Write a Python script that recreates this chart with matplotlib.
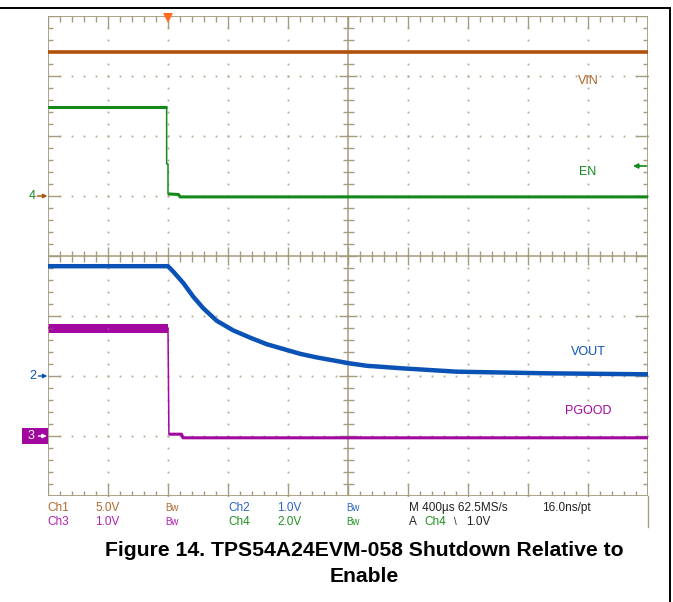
#!/usr/bin/python3

import matplotlib;matplotlib.use('Agg')
import matplotlib.pyplot as plt
from matplotlib.collections import LineCollection
from matplotlib.patches import Rectangle
from matplotlib.lines import Line2D

PNG_FILENAME = 'out.png'
W, H = 673, 602
DPI = 100

# scope screen: 10 x 8 divisions, time in ms relative to the EN falling edge
T_LEFT = -0.8
T_DIV = 0.4          # 400 us/div
N_XDIV, N_YDIV = 10, 8

# channel settings (volts/div, ground position in divisions)
CH1_SCALE, CH1_POS = 5.0, 1.0    # VIN
CH2_SCALE, CH2_POS = 1.0, -2.0   # VOUT
CH3_SCALE, CH3_POS = 1.0, -3.0   # PGOOD
CH4_SCALE, CH4_POS = 2.0, 1.0    # EN
TRIG_LEVEL = 1.0                 # A Ch4 falling 1.0V

# traces (t in ms, values in volts)
vin_t = [-0.8, 3.2]
vin_v = [12.0, 12.0]

en_t = [-0.8, -0.009, -0.009, 0.0, 0.0, 0.07, 0.08, 3.2]
en_v = [2.97, 2.97, 1.07, 1.07, 0.07, 0.05, -0.03, -0.03]

vout_t = [-0.8, 0.0, 0.035, 0.102, 0.169, 0.235, 0.325, 0.435, 0.547, 0.658,
          0.769, 0.880, 0.991, 1.102, 1.213, 1.325, 1.413, 1.547, 1.924,
          2.524, 3.2]
vout_v = [1.83, 1.83, 1.74, 1.55, 1.32, 1.13, 0.92, 0.76, 0.64, 0.53,
          0.45, 0.37, 0.31, 0.26, 0.21, 0.17, 0.155, 0.13, 0.072,
          0.045, 0.028]

pgood_t = [-0.8, 0.0, 0.006, 0.09, 0.10, 3.2]
pgood_v = [1.80, 1.80, 0.03, 0.03, -0.03, -0.03]
pgood_band_t = [-0.8, 0.0]
pgood_band_hi = [1.87, 1.87]
pgood_band_lo = [1.72, 1.72]

C_VIN = '#b0500a'
C_EN = '#13891a'
C_VOUT = '#0a52b5'
C_PGOOD = '#a2079f'
C_GRID = '#a59b7f'
C_DOT = '#b0a88e'
C_TEXT = '#222222'


def to_div(v, scale, pos):
    return [pos + x / scale for x in v]


def draw_graticule(ax):
    t_right = T_LEFT + N_XDIV * T_DIV
    ytop = N_YDIV / 2
    px_x = (t_right - T_LEFT) / 600.0
    px_y = N_YDIV / 480.0
    xc = T_LEFT + N_XDIV / 2 * T_DIV
    xminor = [T_LEFT + k * T_DIV / 5 for k in range(N_XDIV * 5 + 1)]
    yminor = [-ytop + k * 0.2 for k in range(N_YDIV * 5 + 1)]

    # dotted division lines
    for k in range(1, N_XDIV):
        if k == N_XDIV // 2:
            continue
        x = T_LEFT + k * T_DIV
        ax.plot([x] * len(yminor), yminor, ls='none', marker='s', ms=1.3,
                mew=0, color=C_DOT)
    for k in range(1, N_YDIV):
        if k == N_YDIV // 2:
            continue
        y = -ytop + k
        ax.plot(xminor, [y] * len(xminor), ls='none', marker='s', ms=1.3,
                mew=0, color=C_DOT)

    # frame and centre cross
    ax.plot([T_LEFT, t_right, t_right, T_LEFT, T_LEFT],
            [-ytop, -ytop, ytop, ytop, -ytop], color=C_GRID, lw=1.3)
    ax.plot([xc, xc], [-ytop, ytop], color=C_GRID, lw=1.1)
    ax.plot([T_LEFT, t_right], [0, 0], color=C_GRID, lw=1.1)

    segs = []
    for i, x in enumerate(xminor):
        major = i % 5 == 0
        ln = (12 if major else 5.5) * px_y
        cr = (9 if major else 5.5) * px_y
        segs.append([(x, ytop), (x, ytop - ln)])
        segs.append([(x, -ytop), (x, -ytop + ln)])
        segs.append([(x, -cr), (x, cr)])
    for i, y in enumerate(yminor):
        major = i % 5 == 0
        ln = (12 if major else 5.5) * px_x
        cr = (9 if major else 5.5) * px_x
        segs.append([(T_LEFT, y), (T_LEFT + ln, y)])
        segs.append([(t_right, y), (t_right - ln, y)])
        segs.append([(xc - cr, y), (xc + cr, y)])
    ax.add_collection(LineCollection(segs, colors=C_GRID, linewidths=1.0))

    # trigger position marker
    ax.plot([0], [ytop - 2 * px_y], marker='v', ms=7, mew=0,
            color='#ff6a1e', clip_on=False, zorder=6)


def draw_traces(ax):
    vin_y = to_div(vin_v, CH1_SCALE, CH1_POS)
    en_y = to_div(en_v, CH4_SCALE, CH4_POS)
    vout_y = to_div(vout_v, CH2_SCALE, CH2_POS)
    pg_y = to_div(pgood_v, CH3_SCALE, CH3_POS)

    ax.plot(vin_t, vin_y, color=C_VIN, lw=2.6, solid_capstyle='butt')

    ax.plot(en_t, en_y, color=C_EN, lw=1.1)
    ax.plot(en_t[:2], en_y[:2], color=C_EN, lw=2.2, solid_capstyle='butt')
    ax.plot(en_t[4:], en_y[4:], color=C_EN, lw=2.2, solid_capstyle='butt')

    ax.plot(vout_t, vout_y, color=C_VOUT, lw=3.2, solid_capstyle='butt',
            solid_joinstyle='round')

    ax.fill_between(pgood_band_t,
                    to_div(pgood_band_lo, CH3_SCALE, CH3_POS),
                    to_div(pgood_band_hi, CH3_SCALE, CH3_POS),
                    color=C_PGOOD, lw=0)
    ax.plot(pgood_t, pg_y, color=C_PGOOD, lw=1.1)
    ax.plot(pgood_t[2:], pg_y[2:], color=C_PGOOD, lw=2.2, solid_capstyle='butt')

    # trace names
    ax.text(2.8, 2.92, 'VIN', color='#b06528', fontsize=9, ha='center', va='center')
    ax.text(2.8, 1.40, 'EN', color=C_EN, fontsize=9, ha='center', va='center')
    ax.text(2.8, -1.60, 'VOUT', color=C_VOUT, fontsize=9, ha='center', va='center')
    ax.text(2.8, -2.58, 'PGOOD', color=C_PGOOD, fontsize=9, ha='center', va='center')

    # trigger level marker on the right edge
    t_right = T_LEFT + N_XDIV * T_DIV
    trig_y = CH4_POS + TRIG_LEVEL / CH4_SCALE
    ax.annotate('', xy=(t_right - 0.1, trig_y), xytext=(t_right - 0.01, trig_y),
                arrowprops=dict(arrowstyle='-|>', color=C_EN, lw=1.2,
                                mutation_scale=7, shrinkA=0, shrinkB=0))

    # ground markers on the left edge
    tr = ax.get_yaxis_transform()
    ax.text(-0.027, CH4_POS, '4', color=C_EN, fontsize=9, ha='center',
            va='center', transform=tr)
    ax.annotate('', xy=(-0.001, CH4_POS), xytext=(-0.018, CH4_POS), xycoords=tr,
                arrowprops=dict(arrowstyle='-|>', color=C_VIN, lw=1.0,
                                mutation_scale=6, shrinkA=0, shrinkB=0))
    ax.text(-0.025, CH2_POS, '2', color=C_VOUT, fontsize=9, ha='center',
            va='center', transform=tr)
    ax.annotate('', xy=(-0.001, CH2_POS), xytext=(-0.016, CH2_POS), xycoords=tr,
                arrowprops=dict(arrowstyle='-|>', color=C_VOUT, lw=1.0,
                                mutation_scale=6, shrinkA=0, shrinkB=0))
    ax.add_patch(Rectangle((-0.044, CH3_POS - 0.14), 0.044, 0.28, transform=tr,
                           color=C_PGOOD, clip_on=False, lw=0))
    ax.text(-0.029, CH3_POS, '3', color='white', fontsize=9, ha='center',
            va='center', transform=tr)
    ax.annotate('', xy=(-0.002, CH3_POS), xytext=(-0.016, CH3_POS), xycoords=tr,
                arrowprops=dict(arrowstyle='-|>', color='white', lw=1.0,
                                mutation_scale=6, shrinkA=0, shrinkB=0))


def draw_status(fig):
    def put(x, y, s, c, size=8.5):
        fig.text(x / W, 1 - y / H, s, color=c, fontsize=size, va='center', ha='left')

    r1, r2 = 508, 522
    c1, c3, c2, c4 = '#b0692e', '#b21fb0', '#2a66c4', '#229122'
    put(47, r1, 'Ch1', c1); put(95, r1, '5.0V', c1); put(165, r1, 'Bw', c1, 7)
    put(228, r1, 'Ch2', c2); put(277, r1, '1.0V', c2); put(346, r1, 'Bw', c2, 7)
    put(409, r1, 'M 400\u00b5s 62.5MS/s', C_TEXT); put(542, r1, '16.0ns/pt', C_TEXT)
    put(47, r2, 'Ch3', c3); put(95, r2, '1.0V', c3); put(165, r2, 'Bw', c3, 7)
    put(228, r2, 'Ch4', c4); put(277, r2, '2.0V', c4); put(346, r2, 'Bw', c4, 7)
    put(409, r2, 'A', C_TEXT); put(424, r2, 'Ch4', c4)
    put(454, r2, '\\', C_TEXT, 7); put(466, r2, '1.0V', C_TEXT)

    # right edge of the scope image below the screen
    fig.add_artist(Line2D([648 / W, 648 / W], [1 - 496 / H, 1 - 527 / H],
                          color=C_GRID, lw=1.0, transform=fig.transFigure))

    # caption
    fig.text(364 / W, 1 - 550 / H, 'Figure 14. TPS54A24EVM-058 Shutdown Relative to',
             fontsize=15.2, weight='bold', ha='center', va='center', color='black')
    fig.text(364 / W, 1 - 577 / H, 'Enable', fontsize=15.2, weight='bold',
             ha='center', va='center', color='black')

    # page frame
    fig.add_artist(Line2D([0, 670 / W], [1 - 8 / H, 1 - 8 / H], color='black',
                          lw=1.4, transform=fig.transFigure))
    fig.add_artist(Line2D([670 / W, 670 / W], [1 - 8 / H, 0], color='black',
                          lw=1.4, transform=fig.transFigure))


def draw_plot():
    plt.rcParams['font.family'] = ['Liberation Sans', 'DejaVu Sans']
    fig = plt.figure(figsize=(W / DPI, H / DPI), dpi=DPI)
    ax = fig.add_axes([48 / W, (H - 496) / H, 600 / W, 480 / H])
    ax.set_xlim(T_LEFT, T_LEFT + N_XDIV * T_DIV)
    ax.set_ylim(-N_YDIV / 2, N_YDIV / 2)
    ax.axis('off')
    draw_graticule(ax)
    draw_traces(ax)
    draw_status(fig)
    fig.savefig(PNG_FILENAME, dpi=DPI)


if __name__ == "__main__":
    draw_plot()
